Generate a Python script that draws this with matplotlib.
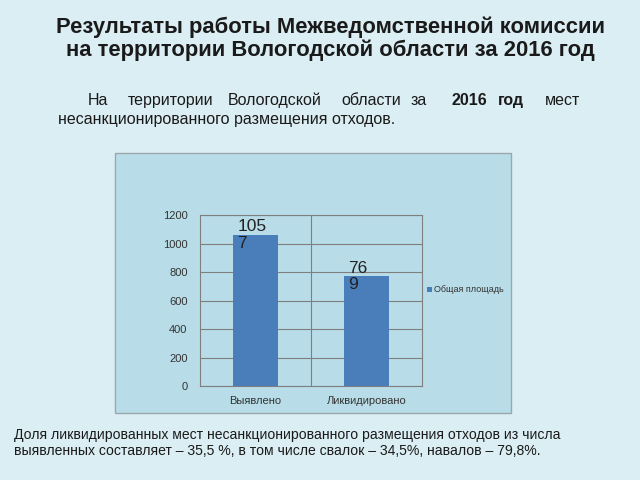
import matplotlib.pyplot as plt
import matplotlib.patches as mpatches

plt.rcParams['font.family'] = ['Liberation Sans', 'DejaVu Sans']

categories = ['Выявлено', 'Ликвидировано']
values = [1057, 769]
value_labels = ['105\n7', '76\n9']
series_name = 'Общая площадь'
yticks = [0, 200, 400, 600, 800, 1000, 1200]

title = 'Результаты работы Межведомственной комиссии\nна территории Вологодской области за 2016 год'
para_words = [('На', 88), ('территории', 128), ('Вологодской', 228), ('области', 341),
              ('за', 411), ('2016', 451), ('год', 498), ('мест', 545)]
para_line2 = 'несанкционированного размещения отходов.'
bottom_text = ('Доля ликвидированных мест несанкционированного размещения отходов из числа\n'
               'выявленных составляет – 35,5 %, в том числе свалок – 34,5%, навалов – 79,8%.')

bar_color = '#4a7ebb'
fig = plt.figure(figsize=(6.4, 4.8), dpi=100, facecolor='#dbeef4')

# chart panel
panel = mpatches.Rectangle((115 / 640, 1 - 413 / 480), 396 / 640, 260 / 480,
                           transform=fig.transFigure, facecolor='#b8dde8',
                           edgecolor='#9aa7ad', linewidth=1, zorder=-1)
fig.patches.append(panel)

ax = fig.add_axes([200 / 640, 1 - 386 / 480, 222 / 640, 171 / 480], zorder=2)
ax.set_facecolor('none')
x = list(range(len(categories)))
ax.bar(x, values, width=0.4, color=bar_color, zorder=3)
ax.set_xlim(-0.5, 1.5)
ax.set_ylim(0, 1200)
ax.set_yticks(yticks)
ax.set_xticks(x)
ax.set_xticklabels(categories, fontsize=8, color='#333333')
ax.set_xticks([0.5], minor=True)
ax.tick_params(axis='y', labelsize=8, colors='#333333', length=0, pad=9)
ax.tick_params(axis='x', length=0, pad=7)
ax.tick_params(axis='x', which='minor', length=0)
ax.grid(axis='y', color='#7f7f7f', linewidth=0.8, zorder=1)
ax.grid(axis='x', which='minor', color='#7f7f7f', linewidth=0.8, zorder=1)
ax.grid(axis='x', which='major', visible=False)
ax.set_axisbelow(True)
for s in ax.spines.values():
    s.set_color('#7f7f7f')
    s.set_linewidth(0.8)

for xi, v, lab in zip(x, values, value_labels):
    ax.annotate(lab, xy=(xi - 0.2, v), xytext=(3, 0), textcoords='offset points',
                ha='left', va='center', fontsize=12.5, color='#222222',
                linespacing=1.15, zorder=4)

# legend
fig.patches.append(mpatches.Rectangle((427 / 640, 1 - 292 / 480), 5 / 640, 5 / 480,
                                      transform=fig.transFigure, facecolor=bar_color,
                                      edgecolor='none'))
fig.text(434 / 640, 1 - 289.5 / 480, series_name, fontsize=6.5, color='#333333',
         va='center', ha='left')

# texts
fig.text(330 / 640, 1 - 39 / 480, title, ha='center', va='center', fontsize=15.8,
         fontweight='bold', color='#1a1a1a', linespacing=1.1)
for w, px in para_words:
    fig.text(px / 640, 1 - 105 / 480, w, ha='left', va='baseline', fontsize=11.5,
             color='#1a1a1a', fontweight='bold' if w in ('2016', 'год') else 'normal')
fig.text(58 / 640, 1 - 124 / 480, para_line2, ha='left', va='baseline', fontsize=11.5,
         color='#1a1a1a')
fig.text(14 / 640, 1 - 443 / 480, bottom_text, ha='left', va='center', fontsize=10.1,
         color='#1a1a1a', linespacing=1.2)

fig.savefig('out.png', dpi=100, facecolor=fig.get_facecolor())
